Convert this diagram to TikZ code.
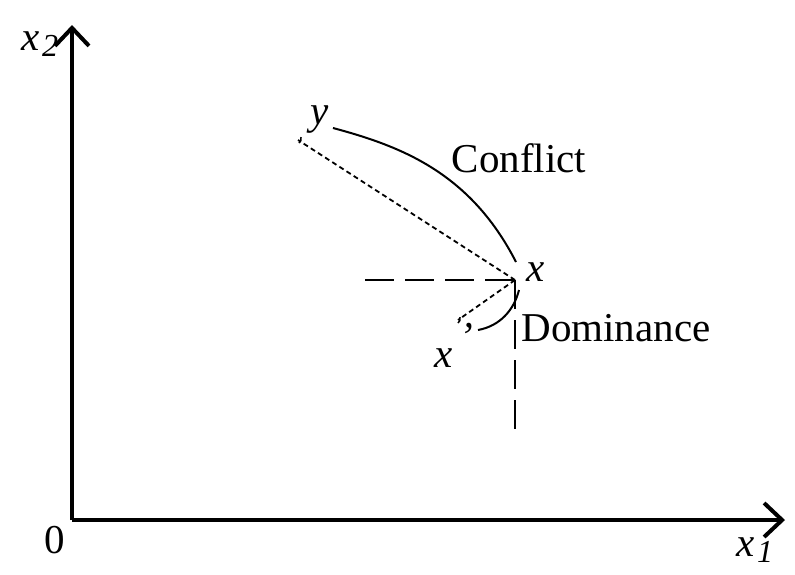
\documentclass[tikz,border=0pt]{standalone}
\usepackage{fontspec}
\setmainfont{Liberation Serif}
\usetikzlibrary{arrows.meta}
\tikzset{
  axis/.style={line width=4pt,-{Straight Barb[length=18pt,width=34pt,line width=4pt]}},
  guide/.style={line width=2pt,dash pattern=on 29pt off 11pt},
  chord/.style={line width=1.8pt,dash pattern=on 5pt off 3.5pt},
  frontier/.style={line width=2pt},
  lbl/.style={font=\fontsize{41}{48}\selectfont,inner sep=0pt}
}
\begin{document}
\begin{tikzpicture}[x=1pt,y=-1pt]
\useasboundingbox (0,0) rectangle (795,574);
% axes
\coordinate (O) at (72,520);
\coordinate (xend) at (785,520);
\coordinate (yend) at (72,25);
\draw[axis] (O) -- (xend);
\draw[axis] (O) -- (yend);
\node[lbl] (zero) at (55,540) {0};
\node[lbl] (xone) at (755,550) {\textit{x\kern2pt\raisebox{-0.35ex}{\fontsize{32}{36}\selectfont 1}}};
\node[lbl] (xtwo) at (40,44) {\textit{x\kern2pt\raisebox{-0.35ex}{\fontsize{32}{36}\selectfont 2}}};
% points
\coordinate (x) at (515,280);
\coordinate (y) at (298,140);
\coordinate (xp) at (458,320);
\node[lbl] (xlab) at (536,272) {\textit{x}};
\node[lbl] (ylab) at (320,120) {\textit{y}};
\node[lbl] (xplab) at (454,345) {\textit{x}\,\raisebox{0.9ex}{\textit{'}}};
\node[lbl] (conflict) at (519,158) {Conflict};
\node[lbl] (dominance) at (616,328) {Dominance};
% dominance cone
\draw[guide] (365,280) -- (x);
\draw[guide] (x) -- (515,432);
% chords
\draw[chord] (x) -- (y);
\draw[chord] (x) -- (xp);
\draw[line width=1.5pt] (y) ++(3,-3) .. controls +(0,4) .. +(-2,6);
\draw[line width=1.5pt] (xp) ++(2,-3) .. controls +(0,4) .. +(-2,6);
% frontiers
\draw[frontier] (333,128) .. controls (400,146) and (470,172) .. (516,262);
\draw[frontier] (478,330) .. controls (500,326) and (514,310) .. (519,290);
\end{tikzpicture}
\end{document}
